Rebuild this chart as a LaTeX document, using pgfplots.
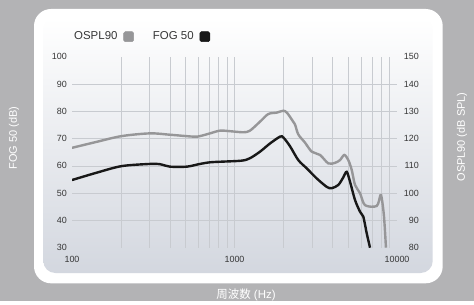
\documentclass[border=0pt]{standalone}
\usepackage{fontspec}
\setmainfont{Liberation Sans}
\newfontfamily\cjk{Noto Sans CJK JP}
\usepackage{pgfplots}
\pgfplotsset{compat=1.18}
\definecolor{outerbg}{RGB}{179,179,181}
\definecolor{panelbot}{RGB}{211,215,223}
\definecolor{gridc}{RGB}{200,203,208}
\definecolor{osplc}{RGB}{150,150,152}
\definecolor{fogc}{RGB}{24,24,24}
\definecolor{tickc}{RGB}{55,55,55}
\begin{document}
\begin{tikzpicture}[x=1bp,y=1bp]
\fill[outerbg] (0,0) rectangle (474,301);
\fill[white, rounded corners=17bp] (34,17.7) rectangle (442.7,292);
\shade[top color=white, bottom color=panelbot, rounded corners=12bp] (43.3,28) rectangle (432.7,283);
\node[rotate=90, white, font=\fontsize{11}{13}\selectfont] at (14,163) {FOG 50 (dB)};
\node[rotate=90, white, font=\fontsize{11}{13}\selectfont] at (462,164) {OSPL90 (dB SPL)};
\node[white, font=\fontsize{11.5}{13}\selectfont] at (246,6) {{\cjk 周波数} (Hz)};
\begin{axis}[
  at={(72bp,53.3bp)}, anchor=south west, scale only axis,
  width=325bp, height=191bp,
  xmode=log, xmin=100, xmax=10000, ymin=30, ymax=100,
  axis line style={draw=none},
  major tick length=0pt, minor tick length=0pt,
  tick style={draw=none},
  xtick={100,1000,10000}, xticklabels={100,1000,10000},
  minor xtick={200,300,400,500,600,700,800,900,1000,2000,3000,4000,5000,6000,7000,8000,9000},
  ytick={30,40,50,60,70,80,90,100},
  minor ytick={40,50,60,70,80,90},
  xminorgrids=true, yminorgrids=true,
  xmajorgrids=false, ymajorgrids=false,
  minor grid style={color=gridc, line width=0.6bp},
  /pgf/number format/assume math mode=true,
  ticklabel style={font=\fontsize{9}{10}\selectfont, text=tickc},
  yticklabel style={anchor=east, inner sep=0pt, xshift=-5bp},
  xticklabel style={anchor=north, inner sep=0pt, yshift=-8bp},
  legend plot pos=right,
  legend columns=2,
  legend style={draw=none, fill=none, at={(0,1)}, anchor=west, xshift=-3bp, yshift=20bp,
    font=\fontsize{11.5}{13}\selectfont, text=tickc,
    /tikz/every even column/.append style={column sep=17bp}},
  legend image code/.code={\path (0bp,0bp) (14bp,0bp);\fill[#1, rounded corners=1.5bp] (4bp,-5bp) rectangle (14bp,5bp);},
]
\addlegendimage{osplc, fill=osplc}
\addlegendentry{OSPL90}
\addlegendimage{fogc, fill=fogc}
\addlegendentry{FOG 50}
\addplot[fogc, line width=2.4bp, smooth, tension=0.5, forget plot] coordinates {
(100,54.8) (142,57.5) (202,59.9) (302,60.7) (348,60.6) (401,59.7) (508,59.7)
(613,60.7) (707,61.3) (814,61.5) (1107,61.9) (1245,62.8) (1436,65.2) (1654,68.2)
(1906,70.7) (1997,70.4) (2195,67.2) (2470,62.1) (2781,59.1) (3204,55.4) (3694,52.3)
(3963,51.8) (4354,53.0) (4673,55.8) (4903,57.8) (5138,54.2) (5515,47.5) (5920,43.2)
(6202,41.4) (6510,35.3) (6823,30)
};
\end{axis}
\begin{axis}[
  at={(72bp,53.3bp)}, anchor=south west, scale only axis,
  width=325bp, height=191bp,
  xmode=log, xmin=100, xmax=10000, ymin=80, ymax=150,
  axis x line=none, axis y line*=right,
  axis line style={draw=none},
  major tick length=0pt, minor tick length=0pt,
  tick style={draw=none},
  ytick={80,90,100,110,120,130,140,150},
  /pgf/number format/assume math mode=true,
  ticklabel style={font=\fontsize{9}{10}\selectfont, text=tickc},
  yticklabel style={anchor=east, inner sep=0pt, xshift=22bp},
]
\addplot[osplc, line width=2.4bp, smooth, tension=0.5] coordinates {
(100,116.6) (142,118.8) (202,120.9) (302,121.9) (401,121.4) (558,120.7) (613,120.9)
(707,121.9) (814,122.9) (938,122.7) (1133,122.3) (1245,122.9) (1436,126.2) (1615,129.0)
(1820,129.5) (1997,130.2) (2100,129.5) (2250,127.0) (2355,125.2) (2470,121.5) (2716,118.5)
(2987,115.2) (3357,114.0) (3778,110.9) (4155,111.1) (4457,112.1) (4740,114.0) (5015,112.1)
(5264,108.5) (5515,103.0) (5920,100.0) (6353,95.6) (7500,95.3) (7900,99.2) (8053,98.2)
(8318,91.4) (8551,80)
};
\end{axis}
\end{tikzpicture}
\end{document}
